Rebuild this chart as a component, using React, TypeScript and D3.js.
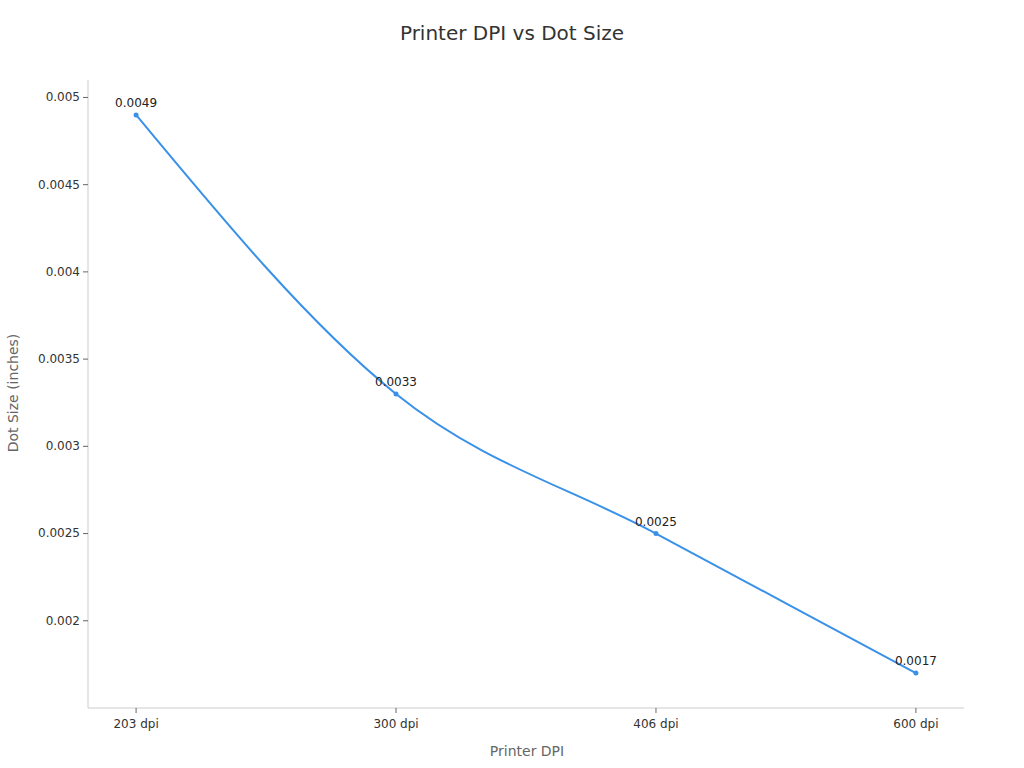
import React from 'react';
import * as d3 from 'd3';

const categories = ['203 dpi', '300 dpi', '406 dpi', '600 dpi'];
const dotSizes = [0.0049, 0.0033, 0.0025, 0.0017];
const yTicks = [0.002, 0.0025, 0.003, 0.0035, 0.004, 0.0045, 0.005];

const width = 1024;
const height = 768;
const margin = { top: 80, right: 60, bottom: 60, left: 88 };
const font = 'DejaVu Sans, sans-serif';
const lineColor = '#3a91e8';

export default function App() {
  const innerWidth = width - margin.left - margin.right;
  const innerHeight = height - margin.top - margin.bottom;

  const x = d3.scalePoint<string>()
    .domain(categories)
    .range([0, innerWidth])
    .padding(0.185);

  const y = d3.scaleLinear()
    .domain([0.0015, 0.0051])
    .range([innerHeight, 0]);

  const points = categories.map((c, i) => ({ c, v: dotSizes[i] }));

  const line = d3.line<{ c: string; v: number }>()
    .x(d => x(d.c) || 0)
    .y(d => y(d.v))
    .curve(d3.curveMonotoneX);

  return (
    <svg
      width={width}
      height={height}
      style={{ position: 'absolute', left: 0, top: 0, background: '#fff' }}
      fontFamily={font}
    >
      <text x={512} y={40} textAnchor="middle" fontSize={20} fill="#333">
        Printer DPI vs Dot Size
      </text>
      <g transform={`translate(${margin.left}, ${margin.top})`}>
        {/* Y axis */}
        <line x1={0} x2={0} y1={0} y2={innerHeight} stroke="#ccc" />
        {yTicks.map(t => (
          <g key={t} transform={`translate(0, ${y(t)})`}>
            <line x1={-5} x2={0} stroke="#666" />
            <text x={-8} dy="0.32em" textAnchor="end" fontSize={12} fill="#333">
              {t}
            </text>
          </g>
        ))}
        {/* X axis */}
        <line x1={0} x2={innerWidth} y1={innerHeight} y2={innerHeight} stroke="#ccc" />
        {categories.map(c => (
          <g key={c} transform={`translate(${x(c)}, ${innerHeight})`}>
            <line y1={0} y2={5} stroke="#666" />
            <text y={20} textAnchor="middle" fontSize={12} fill="#333">
              {c}
            </text>
          </g>
        ))}
        {/* Series */}
        <path d={line(points) || ''} fill="none" stroke={lineColor} strokeWidth={2} />
        {points.map(p => (
          <g key={p.c}>
            <circle cx={x(p.c)} cy={y(p.v)} r={2.5} fill={lineColor} />
            <text
              x={x(p.c)}
              y={y(p.v) - 8}
              textAnchor="middle"
              fontSize={12}
              fill="#222"
            >
              {p.v}
            </text>
          </g>
        ))}
      </g>
      <text x={527} y={756} textAnchor="middle" fontSize={14} fill="#666">
        Printer DPI
      </text>
      <text
        transform={`translate(18, 393) rotate(-90)`}
        textAnchor="middle"
        fontSize={14}
        fill="#666"
      >
        Dot Size (inches)
      </text>
    </svg>
  );
}
